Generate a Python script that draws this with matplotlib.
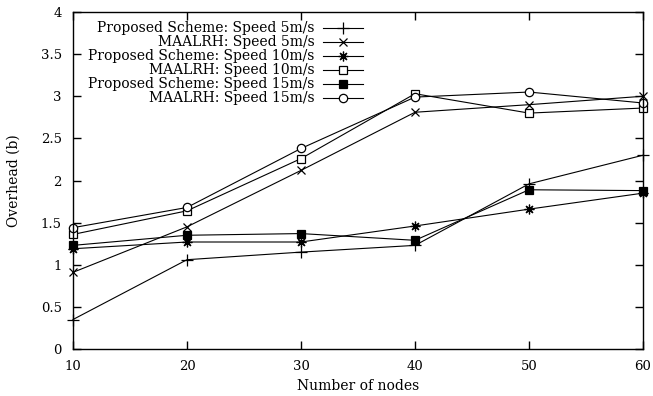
import numpy as np
import matplotlib
matplotlib.use("Agg")
import matplotlib.pyplot as plt

nodes = [10, 20, 30, 40, 50, 60]

proposed_5 = [0.35, 1.06, 1.15, 1.23, 1.96, 2.30]
maalrh_5 = [0.91, 1.45, 2.12, 2.81, 2.90, 3.00]
proposed_10 = [1.19, 1.27, 1.27, 1.46, 1.66, 1.85]
maalrh_10 = [1.36, 1.64, 2.26, 3.03, 2.80, 2.86]
proposed_15 = [1.23, 1.35, 1.37, 1.29, 1.89, 1.88]
maalrh_15 = [1.44, 1.68, 2.38, 2.99, 3.05, 2.92]

labels = ["Proposed Scheme: Speed 5m/s", "MAALRH: Speed 5m/s",
          "Proposed Scheme: Speed 10m/s", "MAALRH: Speed 10m/s",
          "Proposed Scheme: Speed 15m/s", "MAALRH: Speed 15m/s"]

xticks = [10, 20, 30, 40, 50, 60]
yticks = [0, 0.5, 1, 1.5, 2, 2.5, 3, 3.5, 4]
yticklabels = ["0", "0.5", "1", "1.5", "2", "2.5", "3", "3.5", "4"]

plt.rcParams['font.family'] = ['DejaVu Serif']

fig = plt.figure(figsize=(6.53, 3.96), dpi=100)
ax = fig.add_axes([73/653, 1 - 349/396, 570/653, 337/396])

series = [proposed_5, maalrh_5, proposed_10, maalrh_10, proposed_15, maalrh_15]
markers = ['+', 'x', (8, 2, 0), 's', 's', 'o']
faces = ['k', 'k', 'k', 'white', 'k', 'white']
sizes = [9, 6, 7, 6, 6, 6]

for ys, m, fc, ms, lab in zip(series, markers, faces, sizes, labels):
    ax.plot(nodes, ys, color='k', lw=0.8, marker=m, markersize=ms,
            markerfacecolor=fc, markeredgecolor='k', markeredgewidth=0.9,
            label=lab, clip_on=False)

ax.set_xlim(10, 60)
ax.set_ylim(0, 4)
ax.set_xticks(xticks)
ax.set_yticks(yticks)
ax.set_yticklabels(yticklabels)
ax.tick_params(direction='in', length=6, width=1, top=True, right=True,
               labelsize=9.5, pad=8)
for s in ax.spines.values():
    s.set_linewidth(1)

ax.set_xlabel("Number of nodes", fontsize=10)
ax.set_ylabel("Overhead (b)", fontsize=10)
ax.xaxis.set_label_coords(0.5, -0.088)
ax.yaxis.set_label_coords(-0.092, 0.5)

leg = ax.legend(loc='upper right', bbox_to_anchor=(0.509, 0.972),
                frameon=False, markerfirst=False, fontsize=10,
                handlelength=2.9, handletextpad=0.6, labelspacing=0.0,
                borderpad=0, borderaxespad=0)

fig.savefig("out.png", dpi=100)
